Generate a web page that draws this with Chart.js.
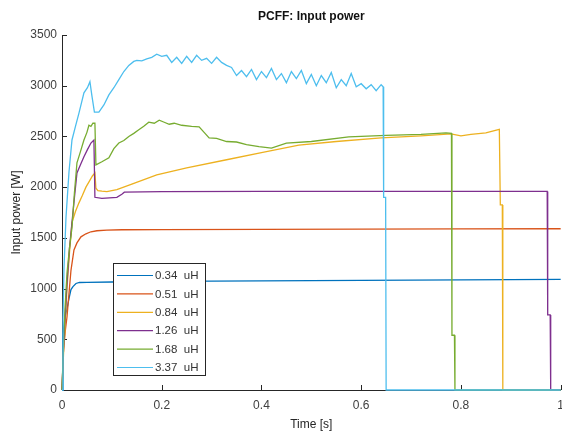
<!DOCTYPE html>
<html>
<head>
<meta charset="utf-8">
<script src="https://cdn.jsdelivr.net/npm/chart.js@4.4.1/dist/chart.umd.min.js"></script>
<style>
  html, body { margin: 0; padding: 0; background: #fff; }
  #wrap { position: relative; width: 562px; height: 439px; overflow: hidden; }
  canvas { display: block; }
</style>
</head>
<body>
<div id="wrap"><canvas id="chart-input-power" width="572" height="439"></canvas></div>
<script>
// Potencia de entrada do PCFF para cada indutancia
const seriesLabels = ["0.34  uH", "0.51  uH", "0.84  uH", "1.26  uH", "1.68  uH", "3.37  uH"]
const seriesColors = ["#0072BD", "#D95319", "#EDB120", "#7E2F8E", "#77AC30", "#4DBEEE"]

const xTicks = [0, 0.2, 0.4, 0.6, 0.8, 1]
const yTicks = [0, 500, 1000, 1500, 2000, 2500, 3000, 3500]

const t034 = [0, 0.002, 0.006, 0.010, 0.014, 0.018, 0.022, 0.028, 0.035, 0.05, 0.1, 0.2, 0.4, 0.6, 0.8, 1.0]
const p034 = [0, 550, 720, 800, 900, 990, 1020, 1050, 1060, 1062, 1065, 1070, 1075, 1080, 1086, 1090]

const t051 = [0, 0.003, 0.007, 0.010, 0.014, 0.018, 0.024, 0.030, 0.038, 0.048, 0.058, 0.07, 0.09, 0.12, 0.2, 0.4, 0.6, 0.8, 1.0]
const p051 = [0, 400, 600, 720, 950, 1180, 1380, 1450, 1510, 1540, 1560, 1570, 1576, 1580, 1582, 1584, 1586, 1588, 1590]

const t084 = [0, 0.003, 0.006, 0.010, 0.015, 0.020, 0.027, 0.034, 0.041, 0.048, 0.055, 0.061, 0.066, 0.068, 0.072, 0.080, 0.09, 0.11, 0.14, 0.19, 0.25, 0.33, 0.40, 0.475, 0.55, 0.64, 0.72, 0.78, 0.80, 0.82, 0.85, 0.877, 0.879, 0.883, 0.884, 1.0]
const p084 = [0, 350, 600, 1000, 1350, 1650, 1760, 1845, 1920, 2000, 2060, 2110, 2140, 1990, 1965, 1960, 1955, 1975, 2030, 2120, 2190, 2270, 2340, 2415, 2450, 2485, 2505, 2525, 2505, 2520, 2535, 2570, 1825, 1825, 0, 0]

const t126 = [0, 0.003, 0.006, 0.010, 0.015, 0.020, 0.025, 0.030, 0.037, 0.044, 0.051, 0.058, 0.064, 0.066, 0.08, 0.11, 0.12, 0.125, 0.2, 0.4, 0.6, 0.8, 0.973, 0.974, 0.979, 0.980, 1.0]
const p126 = [0, 400, 700, 1050, 1400, 1650, 1900, 2140, 2220, 2300, 2370, 2435, 2465, 1900, 1890, 1900, 1930, 1950, 1955, 1958, 1958, 1958, 1958, 740, 740, 0, 0]

const t168 = [0, 0.003, 0.006, 0.010, 0.015, 0.020, 0.025, 0.030, 0.037, 0.044, 0.050, 0.054, 0.058, 0.062, 0.066, 0.068, 0.08, 0.094, 0.104, 0.114, 0.124, 0.134, 0.144, 0.154, 0.164, 0.174, 0.185, 0.195, 0.205, 0.215, 0.225, 0.24, 0.26, 0.275, 0.285, 0.295, 0.31, 0.33, 0.35, 0.37, 0.395, 0.42, 0.45, 0.5, 0.575, 0.65, 0.72, 0.77, 0.781, 0.782, 0.787, 0.788, 1.0]
const p168 = [0, 450, 800, 1150, 1400, 1600, 1950, 2240, 2350, 2465, 2540, 2610, 2600, 2630, 2630, 2220, 2250, 2290, 2380, 2435, 2460, 2500, 2530, 2565, 2600, 2640, 2630, 2660, 2640, 2620, 2630, 2610, 2600, 2595, 2540, 2485, 2480, 2450, 2445, 2420, 2400, 2385, 2435, 2450, 2495, 2510, 2520, 2535, 2530, 540, 540, 0, 0]

const t337 = [0, 0.002, 0.004, 0.008, 0.014, 0.020, 0.027, 0.034, 0.044, 0.051, 0.056, 0.060, 0.065, 0.074, 0.084, 0.094, 0.104, 0.114, 0.124, 0.134, 0.144,
  0.15, 0.16, 0.17, 0.18, 0.19, 0.20, 0.21, 0.22, 0.23, 0.24, 0.25, 0.26, 0.27, 0.28, 0.29, 0.30, 0.31, 0.32, 0.33, 0.34,
  0.35, 0.36, 0.37, 0.38, 0.39, 0.40, 0.41, 0.42, 0.43, 0.44, 0.45, 0.46, 0.47, 0.48, 0.49, 0.50, 0.51, 0.52, 0.53, 0.54,
  0.55, 0.56, 0.57, 0.58, 0.59, 0.60, 0.61, 0.62, 0.63, 0.64, 0.644, 0.645, 0.649, 0.650, 1.0]
const p337 = [0, 700, 1200, 1700, 2150, 2465, 2600, 2730, 2930, 2980, 3040, 2900, 2740, 2740, 2810, 2910, 2980, 3060, 3140, 3200, 3240,
  3250, 3245, 3265, 3280, 3310, 3290, 3300, 3230, 3280, 3220, 3290, 3230, 3300, 3250, 3270, 3220, 3280, 3230, 3200, 3180,
  3100, 3150, 3090, 3160, 3060, 3140, 3080, 3170, 3060, 3120, 3030, 3140, 3070, 3150, 3020, 3110, 3000, 3100, 3030, 3130,
  2980, 3060, 3000, 3120, 2990, 3020, 2970, 3010, 2950, 3010, 2990, 1900, 1900, 0, 0]

const seriesTimes = [t034, t051, t084, t126, t168, t337]
const seriesPower = [p034, p051, p084, p126, p168, p337]

Chart.defaults.font.family = "'Liberation Sans', Arial, sans-serif"
Chart.defaults.color = "#333333"

// ticks para dentro, como no estilo do matlab
const inwardTicks = {
  id: "inwardTicks",
  beforeDatasetsDraw(chart) {
    const { ctx, chartArea, scales } = chart
    ctx.save()
    ctx.strokeStyle = "#262626"
    ctx.lineWidth = 1
    ctx.beginPath()
    scales.x.ticks.forEach((tick) => {
      const px = Math.round(scales.x.getPixelForValue(tick.value)) + 0.5
      ctx.moveTo(px, chartArea.bottom)
      ctx.lineTo(px, chartArea.bottom - 5)
    })
    scales.y.ticks.forEach((tick) => {
      const py = Math.round(scales.y.getPixelForValue(tick.value)) + 0.5
      ctx.moveTo(chartArea.left, py)
      ctx.lineTo(chartArea.left + 5, py)
    })
    ctx.stroke()
    ctx.restore()
  },
}

// titulo centrado na area do grafico
const plotTitle = {
  id: "plotTitle",
  afterDraw(chart) {
    const { ctx, chartArea } = chart
    ctx.save()
    ctx.font = "bold 12px 'Liberation Sans', Arial, sans-serif"
    ctx.fillStyle = "#111111"
    ctx.textAlign = "center"
    ctx.textBaseline = "middle"
    ctx.fillText("PCFF: Input power", (chartArea.left + chartArea.right) / 2, 17)
    ctx.restore()
  },
}

// legenda dentro da area, canto inferior esquerdo
const boxLegend = {
  id: "boxLegend",
  afterDatasetsDraw(chart) {
    const { ctx, chartArea } = chart
    const left = chartArea.left + 51
    const top = chartArea.top + 228
    const w = 92
    const rowH = 18.4
    const h = 112
    ctx.save()
    ctx.fillStyle = "#ffffff"
    ctx.fillRect(left, top, w, h)
    ctx.strokeStyle = "#262626"
    ctx.lineWidth = 1
    ctx.strokeRect(left + 0.5, top + 0.5, w, h)
    ctx.font = "11.5px 'Liberation Sans', Arial, sans-serif"
    ctx.textBaseline = "middle"
    ctx.textAlign = "left"
    chart.data.datasets.forEach((ds, i) => {
      const y = top + 12 + i * rowH
      ctx.strokeStyle = ds.borderColor
      ctx.lineWidth = 1.2
      ctx.beginPath()
      ctx.moveTo(left + 4, y + 0.5)
      ctx.lineTo(left + 40, y + 0.5)
      ctx.stroke()
      ctx.fillStyle = "#333333"
      ctx.fillText(ds.label, left + 42, y + 1)
    })
    ctx.restore()
  },
}

const datasets = seriesLabels.map((label, i) => ({
  label,
  data: seriesTimes[i].map((t, k) => ({ x: t, y: seriesPower[i][k] })),
  borderColor: seriesColors[i],
  backgroundColor: seriesColors[i],
  borderWidth: 1.3,
  pointRadius: 0,
  tension: 0,
  clip: 3,
  order: seriesLabels.length - i,
}))

new Chart(document.getElementById("chart-input-power"), {
  type: "line",
  data: { datasets },
  options: {
    responsive: false,
    animation: false,
    events: [],
    layout: { padding: { top: 35, right: 0, left: 0, bottom: 0 } },
    plugins: { legend: { display: false }, tooltip: { enabled: false }, title: { display: false } },
    scales: {
      x: {
        type: "linear",
        min: 0,
        max: 1,
        afterBuildTicks: (scale) => { scale.ticks = xTicks.map((v) => ({ value: v })) },
        afterFit: (scale) => { scale.height = 49 },
        grid: { display: false, drawTicks: false },
        border: { display: true, color: "#262626", width: 1 },
        ticks: { padding: 8, font: { size: 12 }, color: "#404040", maxRotation: 0, callback: (v) => String(v) },
        title: { display: true, text: "Time [s]", font: { size: 12 }, color: "#262626", padding: { top: 0, bottom: 7 } },
      },
      y: {
        min: 0,
        max: 3500,
        afterBuildTicks: (scale) => { scale.ticks = yTicks.map((v) => ({ value: v })) },
        afterFit: (scale) => { scale.width = 62 },
        grid: { display: false, drawTicks: false },
        border: { display: true, color: "#262626", width: 1 },
        ticks: { padding: 5, font: { size: 12 }, color: "#404040", callback: (v) => String(v) },
        title: { display: true, text: "Input power [W]", font: { size: 12 }, color: "#262626", padding: { top: 9, bottom: 0 } },
      },
    },
  },
  plugins: [inwardTicks, plotTitle, boxLegend],
})
</script>
</body>
</html>
